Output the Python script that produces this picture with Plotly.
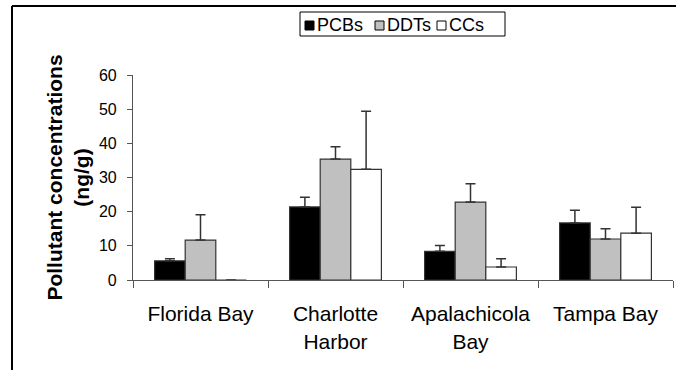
import plotly.graph_objects as go

# Sampling sites (category axis) and mean concentrations with standard deviations (ng/g)
sites = ["Florida Bay", "Charlotte<br>Harbor", "Apalachicola<br>Bay", "Tampa Bay"]

pcbs = [5.6, 21.4, 8.4, 16.7]
pcbs_sd = [0.6, 2.8, 1.7, 3.7]

ddts = [11.7, 35.4, 22.8, 12.0]
ddts_sd = [7.4, 3.6, 5.4, 3.0]

ccs = [0.0, 32.4, 3.8, 13.7]
ccs_sd = [0.0, 17.0, 2.4, 7.6]

y_ticks = [0, 10, 20, 30, 40, 50, 60]

FONT = "Arial, 'Liberation Sans', sans-serif"
EDGE = "#333333"

W, H = 676, 370
ML, MR, MT, MB = 133, 3, 75, 90
PW, PH = W - ML - MR, H - MT - MB


def px_x(px):
    """Pixel column -> paper x."""
    return (px - ML) / PW


def px_y(py):
    """Pixel row -> paper y."""
    return (H - MB - py) / PH


series = [
    ("PCBs", pcbs, pcbs_sd, "#000000"),
    ("DDTs", ddts, ddts_sd, "#C0C0C0"),
    ("CCs", ccs, ccs_sd, "#FFFFFF"),
]

fig = go.Figure()
for name, vals, sd, color in series:
    fig.add_trace(go.Bar(
        name=name,
        x=sites,
        y=vals,
        showlegend=False,
        marker=dict(color=color, line=dict(color=EDGE, width=1.2)),
        error_y=dict(
            type="data",
            symmetric=False,
            array=sd,
            arrayminus=[0] * len(sd),
            color=EDGE,
            thickness=1.5,
            width=5,
        ),
    ))

# Compact boxed key above the plot: small swatch followed by the series name
shapes = [
    dict(type="rect", xref="paper", yref="paper",
         x0=px_x(300), x1=px_x(505), y0=px_y(12), y1=px_y(36),
         line=dict(color="black", width=1), fillcolor="white"),
]
annotations = []
key_swatch_left = [305, 375, 437]
for (name, _, _, color), sx in zip(series, key_swatch_left):
    shapes.append(dict(type="rect", xref="paper", yref="paper",
                       x0=px_x(sx), x1=px_x(sx + 9), y0=px_y(21), y1=px_y(30),
                       line=dict(color="black", width=1), fillcolor=color))
    annotations.append(dict(xref="paper", yref="paper", x=px_x(sx + 11), y=px_y(24.5),
                            xanchor="left", yanchor="middle", showarrow=False,
                            borderpad=0,
                            text=name, font=dict(size=18, family=FONT, color="black")))

# Outer chart-area frame: top and left edges
shapes += [
    dict(type="line", xref="paper", yref="paper",
         x0=px_x(12), x1=px_x(680), y0=px_y(6), y1=px_y(6),
         line=dict(color="black", width=2)),
    dict(type="line", xref="paper", yref="paper",
         x0=px_x(12), x1=px_x(12), y0=px_y(6), y1=px_y(375),
         line=dict(color="black", width=2)),
]

fig.update_layout(
    width=W,
    height=H,
    margin=dict(l=ML, r=MR, t=MT, b=MB),
    paper_bgcolor="white",
    plot_bgcolor="white",
    barmode="group",
    bargap=0.32,
    bargroupgap=0,
    font=dict(family=FONT, color="black"),
    showlegend=False,
    xaxis=dict(
        type="category",
        showline=True,
        linecolor="#555555",
        linewidth=1.2,
        ticks="outside",
        tickson="boundaries",
        ticklen=7,
        tickcolor="#555555",
        tickfont=dict(size=21, family=FONT),
        showgrid=False,
        zeroline=False,
        ticklabelstandoff=15,
    ),
    yaxis=dict(
        range=[0, 60],
        tickvals=y_ticks,
        showline=True,
        linecolor="#555555",
        linewidth=1.2,
        ticks="outside",
        ticklen=5,
        tickcolor="#555555",
        tickfont=dict(size=16, family=FONT),
        showgrid=False,
        zeroline=False,
        ticklabelstandoff=7,
        title=dict(
            text="<b>Pollutant concentrations<br>(ng/g)</b>",
            font=dict(size=21, family=FONT),
            standoff=3,
        ),
    ),
    shapes=shapes,
    annotations=annotations,
)

fig.write_html("out.html")
